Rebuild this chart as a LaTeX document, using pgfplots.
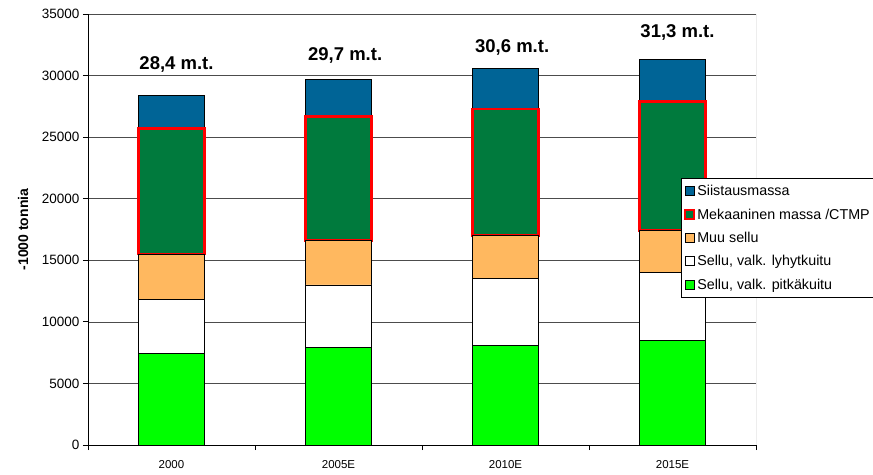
\documentclass[border=0pt]{standalone}
\usepackage{fontspec}
\setmainfont{Liberation Sans}
\usepackage{pgfplots}
\pgfplotsset{compat=1.18}
\definecolor{cpitka}{HTML}{00FF00}
\definecolor{clyhyt}{HTML}{FFFFFF}
\definecolor{cmuu}{HTML}{FFB85F}
\definecolor{cmeka}{HTML}{007A3D}
\definecolor{csiist}{HTML}{006496}
\pgfplotsset{
  legA/.style={legend image code/.code={\draw[fill=cpitka, draw=black, line width=0.8bp] (0bp,-4.5bp) rectangle (9bp,4.5bp);}},
  legB/.style={legend image code/.code={\draw[fill=clyhyt, draw=black, line width=0.8bp] (0bp,-4.5bp) rectangle (9bp,4.5bp);}},
  legC/.style={legend image code/.code={\draw[fill=cmuu, draw=black, line width=0.8bp] (0bp,-4.5bp) rectangle (9bp,4.5bp);}},
  legD/.style={legend image code/.code={\draw[fill=cmeka, draw=red, line width=2bp] (0bp,-4.5bp) rectangle (9bp,4.5bp);}},
  legE/.style={legend image code/.code={\draw[fill=csiist, draw=black, line width=0.8bp] (0bp,-4.5bp) rectangle (9bp,4.5bp);}},
}
\begin{document}
\begin{tikzpicture}
\path[use as bounding box] (0,0) rectangle (873bp,475bp);
\begin{axis}[
  at={(88bp,30bp)}, anchor=south west,
  scale only axis, width=668bp, height=431bp,
  ybar stacked, bar width=66bp,
  xmin=-0.5, xmax=3.5, ymin=0, ymax=35000,
  xtick={0,1,2,3}, xticklabels={2000,2005E,2010E,2015E},
  minor xtick={-0.5,0.5,1.5,2.5,3.5},
  ytick={0,5000,10000,15000,20000,25000,30000,35000},
  yticklabels={0,5000,10000,15000,20000,25000,30000,35000},
  scaled y ticks=false,
  yticklabel style={font=\fontsize{13.5bp}{15bp}\selectfont},
  xticklabel style={font=\fontsize{11.5bp}{13bp}\selectfont, yshift=-7bp},
  axis x line*=bottom, axis y line*=left,
  axis line style={black, line width=0.8bp},
  tick align=outside,
  major tick length=5bp, minor tick length=5bp,
  major x tick style={draw=none},
  minor x tick style={black, line width=0.8bp},
  major y tick style={black, line width=0.8bp},
  ymajorgrids, major grid style={black!70, line width=0.7bp},
  ylabel={-1000 tonnia},
  ylabel style={font=\bfseries\fontsize{14bp}{16bp}\selectfont, at={(axis description cs:-0.097,0.5)}, anchor=center},
  reverse legend,
  legend cell align=left,
  legend style={at={(rel axis cs:0.8877,0.6195)}, anchor=north west,
    font=\fontsize{14.3bp}{16bp}\selectfont, draw=black, line width=0.7bp, fill=white,
    row sep=7.5bp, inner xsep=3bp, inner ysep=5bp},
]
\addplot[fill=cpitka, draw=black, line width=0.8bp, legA] coordinates {(0,7400) (1,7900) (2,8100) (3,8500)};
\addlegendentry{Sellu, valk. pitkäkuitu}
\addplot[fill=clyhyt, draw=black, line width=0.8bp, legB] coordinates {(0,4400) (1,5100) (2,5400) (3,5500)};
\addlegendentry{Sellu, valk. lyhytkuitu}
\addplot[fill=cmuu, draw=black, line width=0.8bp, legC] coordinates {(0,3700) (1,3600) (2,3500) (3,3400)};
\addlegendentry{Muu sellu}
\addplot[fill=cmeka, draw=red, line width=2.6bp, legD] coordinates {(0,10200) (1,10100) (2,10300) (3,10500)};
\addlegendentry{Mekaaninen massa /CTMP}
\addplot[fill=csiist, draw=black, line width=0.8bp, legE] coordinates {(0,2700) (1,3000) (2,3300) (3,3400)};
\addlegendentry{Siistausmassa}
\draw[black!55, line width=0.7bp] (rel axis cs:1,0) -- (rel axis cs:1,1);
\node[font=\bfseries\fontsize{18.5bp}{21bp}\selectfont] at (axis cs:0.03,30940) {28,4 m.t.};
\node[font=\bfseries\fontsize{18.5bp}{21bp}\selectfont] at (axis cs:1.04,31670) {29,7 m.t.};
\node[font=\bfseries\fontsize{18.5bp}{21bp}\selectfont] at (axis cs:2.04,32320) {30,6 m.t.};
\node[font=\bfseries\fontsize{18.5bp}{21bp}\selectfont] at (axis cs:3.03,33460) {31,3 m.t.};
\end{axis}
\end{tikzpicture}
\end{document}
